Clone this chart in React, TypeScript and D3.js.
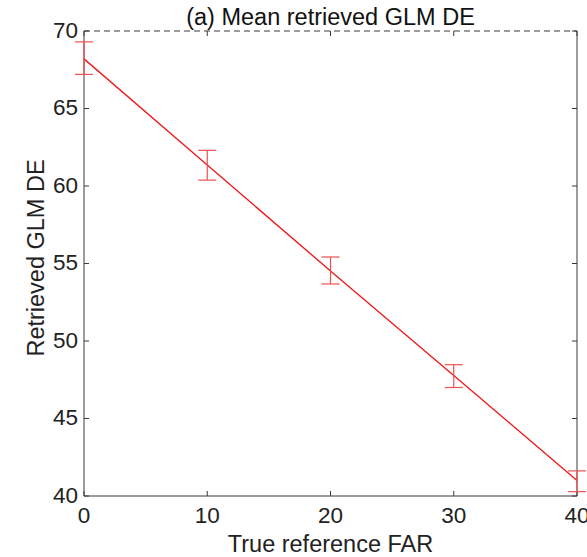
import React from "react";
import * as d3 from "d3";

const farValues = [0, 10, 20, 30, 40];
const meanDE = [68.2, 61.35, 54.52, 47.78, 41.0];
const upperDE = [69.3, 62.3, 55.42, 48.47, 41.62];
const lowerDE = [67.2, 60.38, 53.68, 47.0, 40.28];
const xTicks = [0, 10, 20, 30, 40];
const yTicks = [40, 45, 50, 55, 60, 65, 70];

const W = 587;
const H = 557;
const L = 84, R = 577, T = 31, B = 496;
const FONT = "'Liberation Sans', Arial, Helvetica, sans-serif";

export default function App() {
  const x = d3.scaleLinear().domain([0, 40]).range([L, R]);
  const y = d3.scaleLinear().domain([40, 70]).range([B, T]);
  const line = d3.line<number>().x((_, i) => x(farValues[i])).y((d) => y(d));
  const axisColor = "#3a3a3a";
  const errColor = "rgb(240,80,80)";
  const tickLen = 5;
  return (
    <svg width={W} height={H} style={{ position: "absolute", left: 0, top: 0, background: "#fff" }}>
      <line x1={L} y1={B} x2={R} y2={B} stroke={axisColor} strokeWidth={1} />
      <line x1={L} y1={T} x2={L} y2={B} stroke={axisColor} strokeWidth={1} />
      <line x1={R} y1={T} x2={R} y2={B} stroke={axisColor} strokeWidth={1} />
      <line x1={L} y1={T} x2={R} y2={T} stroke={axisColor} strokeWidth={1} strokeDasharray="6,4" />
      {xTicks.map((t) => (
        <g key={"x" + t}>
          <line x1={x(t)} x2={x(t)} y1={B} y2={B - tickLen} stroke={axisColor} />
          <line x1={x(t)} x2={x(t)} y1={T} y2={T + tickLen} stroke={axisColor} />
          <text x={x(t)} y={B + 21} textAnchor="middle" dominantBaseline="middle" fontFamily={FONT} fontSize={22.5} fill="#222">
            {t}
          </text>
        </g>
      ))}
      {yTicks.map((t) => (
        <g key={"y" + t}>
          <line x1={L} x2={L + tickLen} y1={y(t)} y2={y(t)} stroke={axisColor} />
          <line x1={R} x2={R - tickLen} y1={y(t)} y2={y(t)} stroke={axisColor} />
          <text x={L - 6} y={y(t) + 1} textAnchor="end" dominantBaseline="middle" fontFamily={FONT} fontSize={22.5} fill="#222">
            {t}
          </text>
        </g>
      ))}
      <path d={line(meanDE) || ""} fill="none" stroke="#ee1c1c" strokeWidth={1.4} />
      {farValues.map((f, i) => {
        const cx = x(f);
        return (
          <g key={"e" + i} stroke={errColor} strokeWidth={1.2}>
            <line x1={cx} x2={cx} y1={y(upperDE[i])} y2={y(lowerDE[i])} />
            <line x1={cx - 9} x2={cx + 9} y1={y(upperDE[i])} y2={y(upperDE[i])} />
            <line x1={cx - 9} x2={cx + 9} y1={y(lowerDE[i])} y2={y(lowerDE[i])} />
          </g>
        );
      })}
      <text x={(L + R) / 2} y={25} textAnchor="middle" fontFamily={FONT} fontSize={23.5} fill="#111">
        (a) Mean retrieved GLM DE
      </text>
      <text x={(L + R) / 2} y={552} textAnchor="middle" fontFamily={FONT} fontSize={23.5} fill="#222">
        True reference FAR
      </text>
      <text
        transform={`translate(43.5, 258) rotate(-90)`}
        textAnchor="middle"
        fontFamily={FONT}
        fontSize={23.5}
        fill="#222"
      >
        Retrieved GLM DE
      </text>
    </svg>
  );
}
